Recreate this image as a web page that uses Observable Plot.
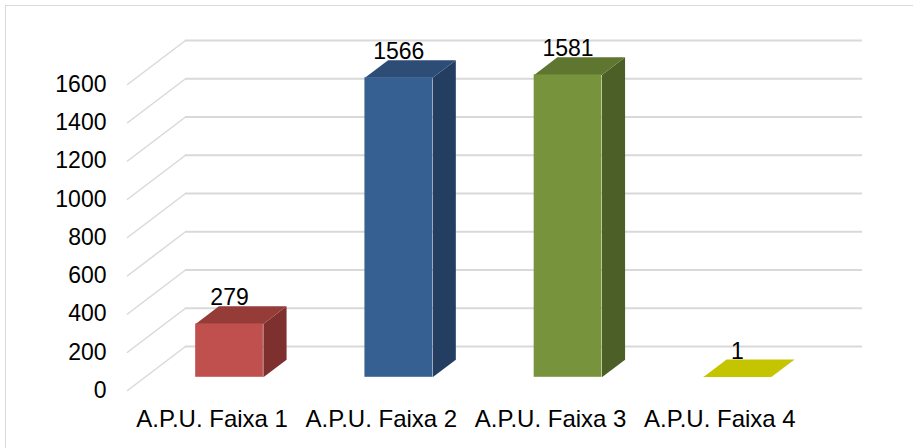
<!DOCTYPE html>
<html>
<head>
<meta charset="utf-8">
<script src="https://cdn.jsdelivr.net/npm/d3@7"></script>
<script src="https://cdn.jsdelivr.net/npm/@observablehq/plot@0.6"></script>
<style>
  html, body { margin: 0; padding: 0; background: #fff; overflow: hidden; }
  #wrap { position: relative; width: 913px; height: 448px; }
  #border { position: absolute; left: 5px; top: 5px; width: 1000px; height: 1000px;
            border-left: 1px solid #d9d9d9; border-top: 1px solid #d9d9d9; pointer-events: none; }
  #chart { position: absolute; left: 0; top: 0; }
</style>
</head>
<body>
<div id="wrap"><div id="chart"></div><div id="border"></div></div>
<script>
// ---- data ----
const categories = ["A.P.U. Faixa 1", "A.P.U. Faixa 2", "A.P.U. Faixa 3", "A.P.U. Faixa 4"];
const values = [279, 1566, 1581, 1];
const yTicks = [0, 200, 400, 600, 800, 1000, 1200, 1400, 1600];
const frontColors = ["#C0504D", "#376092", "#77933C", "#CACA00"];
const topColors   = ["#953B38", "#2D4D77", "#5F7631", "#C4C400"];
const sideColors  = ["#7E302E", "#233E60", "#4B5F27", "#9E9E00"];

// ---- layout ----
const W = 913, H = 448;
const mL = 127, mR = 109, mT = 84, mB = 58;
const plotW = W - mL - mR;         // width of front floor edge
const plotH = H - mT - mB;         // pixels for 0..1600 on front edge
const yMax = 1600;
// full depth of the 3D box in pixels (front edge -> back wall)
const depthPx = {dx: 58, dy: 44};
const n = categories.length;
const dxU = depthPx.dx / (plotW / n);           // in category units
const dyU = depthPx.dy / (plotH / yMax);        // in value units
const barFrontDepth = 0.3, barBackDepth = 0.7;  // bar position in depth
const barStart = 0.3, barEnd = 0.7;             // bar position inside band

// gridlines: back wall horizontals and diagonal side-wall lines
const backLines = yTicks.map(t => ({t}));
const diag = yTicks.flatMap(t => [
  {t, x: 0, y: t},
  {t, x: dxU, y: t + dyU}
]);

// bars
const bars = values.map((v, i) => {
  const x1 = i + barStart + barFrontDepth * dxU;
  const x2 = i + barEnd + barFrontDepth * dxU;
  const b0 = barFrontDepth * dyU;
  const b1 = barBackDepth * dyU;
  const dd = (barBackDepth - barFrontDepth) * dxU;
  return {i, v, x1, x2, b0, b1, dd, cat: categories[i]};
});
const topFaces = bars.flatMap(b => [
  [b.x1, b.v + b.b0], [b.x2, b.v + b.b0], [b.x2 + b.dd, b.v + b.b1], [b.x1 + b.dd, b.v + b.b1]
].map(([x, y]) => ({x, y, z: "top" + b.i, fill: topColors[b.i]})));
const sideFaces = bars.flatMap(b => [
  [b.x2, b.b0], [b.x2, b.v + b.b0], [b.x2 + b.dd, b.v + b.b1], [b.x2 + b.dd, b.b1]
].map(([x, y]) => ({x, y, z: "side" + b.i, fill: sideColors[b.i]})));

const chart = Plot.plot({
  width: W, height: H,
  marginLeft: mL, marginRight: mR, marginTop: mT, marginBottom: mB,
  x: {domain: [0, n], axis: null},
  y: {domain: [0, yMax], axis: null},
  color: {type: "identity"},
  style: {fontFamily: "'Liberation Sans', Arial, sans-serif", fontSize: "23px", color: "#000", background: "transparent"},
  marks: [
    // back wall gridlines
    Plot.ruleY(backLines, {y: d => d.t + dyU, x1: dxU, x2: n + dxU, stroke: "#d9d9d9", strokeWidth: 2}),
    // side wall diagonals
    Plot.line(diag, {x: "x", y: "y", z: "t", stroke: "#d9d9d9", strokeWidth: 1.5}),
    // y axis labels
    Plot.axisY({ticks: yTicks, tickFormat: d => String(d), tickSize: 0, tickPadding: 21, label: null, fontSize: 23}),
    // bars: side, top, front
    Plot.line(sideFaces, {x: "x", y: "y", z: "z", fill: "fill", stroke: "none"}),
    Plot.line(topFaces, {x: "x", y: "y", z: "z", fill: "fill", stroke: "none"}),
    Plot.rect(bars, {x1: "x1", x2: "x2", y1: "b0", y2: d => d.v + d.b0, fill: d => frontColors[d.i], inset: 0}),
    // value labels
    Plot.text(bars, {x: d => (d.x1 + d.x2) / 2, y: d => d.v + d.b1, text: d => String(d.v),
      lineAnchor: "bottom", dy: -1, fontSize: 23, fill: "#000"}),
    // category labels
    Plot.text(bars, {x: d => d.i + 0.5, y: 0, text: "cat", lineAnchor: "middle", dy: 29, fontSize: 24, fill: "#000"})
  ]
});
document.getElementById("chart").appendChild(chart);
</script>
</body>
</html>
